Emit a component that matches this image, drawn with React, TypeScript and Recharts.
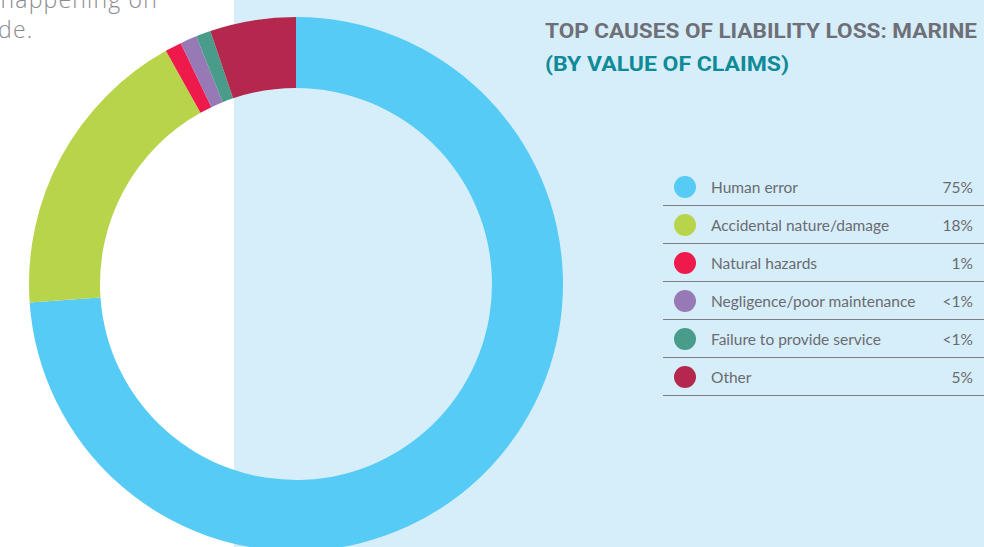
import { PieChart, Pie, Cell } from "recharts";

const CAUSES = [
  "Human error",
  "Accidental nature/damage",
  "Natural hazards",
  "Negligence/poor maintenance",
  "Failure to provide service",
  "Other",
];
const SHARES = [73.9, 18.0, 1.0, 1.0, 0.9, 5.2];
const SHARE_LABELS = ["75%", "18%", "1%", "<1%", "<1%", "5%"];
const COLORS = ["#55cbf6", "#b8d44a", "#ee1a4b", "#9679b5", "#4a9c8a", "#b3284c"];

const data = CAUSES.map((name, i) => ({ name, value: SHARES[i], label: SHARE_LABELS[i] }));

function LegendRows() {
  return (
    <div style={{ position: "absolute", left: 663, top: 168, width: 321 }}>
      {data.map((d, i) => (
        <div
          key={d.name}
          style={{
            height: 37,
            borderBottom: "1.5px solid #7d7f84",
            display: "flex",
            alignItems: "center",
            fontFamily: "Lato, 'Noto Sans', sans-serif",
            fontSize: 15.5,
            color: "#6a6b70",
          }}
        >
          <span
            style={{
              width: 22,
              height: 22,
              borderRadius: "50%",
              background: COLORS[i],
              marginLeft: 11,
              marginRight: 15,
              flex: "none",
            }}
          />
          <span style={{ flex: 1 }}>{d.name}</span>
          <span style={{ marginRight: 11 }}>{d.label}</span>
        </div>
      ))}
    </div>
  );
}

const introStyle = {
  position: "absolute" as const,
  whiteSpace: "nowrap" as const,
  fontFamily: "'Open Sans', sans-serif",
  fontWeight: 300,
  fontSize: 23,
  letterSpacing: 1.2,
  lineHeight: "30px",
  color: "#8a8a8e",
};

export default function App() {
  return (
    <div
      style={{
        position: "fixed",
        left: 0,
        top: 0,
        width: 984,
        height: 547,
        overflow: "hidden",
        background: "#ffffff",
      }}
    >
      <div
        style={{
          position: "absolute",
          left: 234,
          top: 0,
          width: 750,
          height: 547,
          background: "#d6eefa",
        }}
      />
      <div style={{ ...introStyle, right: 984 - 158, top: -16, textAlign: "right" }}>
        happening on
      </div>
      <div style={{ ...introStyle, left: -2, top: 14 }}>de.</div>
      <div style={{ position: "absolute", left: 0, top: 0 }}>
        <PieChart width={984} height={547} margin={{ top: 0, right: 0, bottom: 0, left: 0 }}>
          <Pie
            data={data}
            dataKey="value"
            nameKey="name"
            cx={296}
            cy={284}
            innerRadius={196}
            outerRadius={267}
            startAngle={90}
            endAngle={-270}
            stroke="none"
            isAnimationActive={false}
          >
            {data.map((d, i) => (
              <Cell key={d.name} fill={COLORS[i]} />
            ))}
          </Pie>
        </PieChart>
      </div>
      <LegendRows />
      <svg
        width={984}
        height={547}
        style={{ position: "absolute", left: 0, top: 0, pointerEvents: "none" }}
      >
        <text
          x={545}
          y={38}
          textLength={432}
          lengthAdjust="spacingAndGlyphs"
          fontFamily="Roboto, sans-serif"
          fontWeight={700}
          fontSize={21}
          fill="#6f6f78"
        >
          TOP CAUSES OF LIABILITY LOSS: MARINE
        </text>
        <text
          x={545}
          y={71}
          textLength={244}
          lengthAdjust="spacingAndGlyphs"
          fontFamily="Roboto, sans-serif"
          fontWeight={700}
          fontSize={21}
          fill="#0e8a98"
        >
          (BY VALUE OF CLAIMS)
        </text>
      </svg>
    </div>
  );
}
